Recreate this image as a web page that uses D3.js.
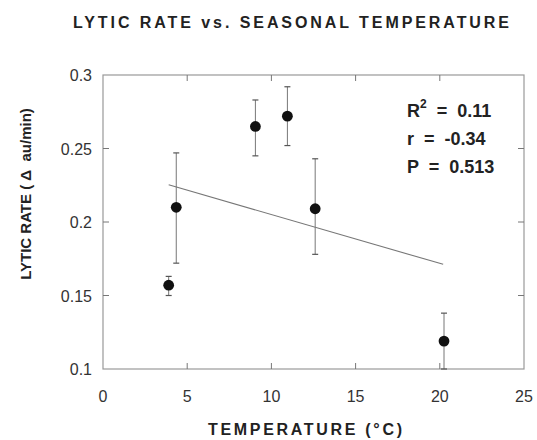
<!DOCTYPE html>
<html>
<head>
<meta charset="utf-8">
<script src="https://cdn.jsdelivr.net/npm/d3@7"></script>
<style>
  html, body { margin: 0; padding: 0; background: #fff; }
  svg { display: block; }
  .tick-label { font-family: Arial, "Liberation Sans", sans-serif; font-size: 16px; fill: #333; }
  .bold { font-family: Arial, "Liberation Sans", sans-serif; font-weight: bold; fill: #222; }
</style>
</head>
<body>
<svg id="chart" width="537" height="440"></svg>
<script>
// DATA
const temps = [3.9, 4.35, 9.05, 10.95, 12.6, 20.25];
const rates = [0.157, 0.21, 0.265, 0.272, 0.209, 0.119];
const errLow = [0.15, 0.172, 0.245, 0.252, 0.178, 0.1];
const errHigh = [0.163, 0.247, 0.283, 0.292, 0.243, 0.138];
const fitX = [3.9, 20.2];
const fitY = [0.2253, 0.1712];
const xTicks = [0, 5, 10, 15, 20, 25];
const yTicks = [0.1, 0.15, 0.2, 0.25, 0.3];
const yTickLabels = ["0.1", "0.15", "0.2", "0.25", "0.3"];
const statLines = ["r  =  -0.34", "P  =  0.513"];

const margin = { top: 75, right: 13, bottom: 71, left: 103 };
const width = 537, height = 440;
const innerW = width - margin.left - margin.right;
const innerH = height - margin.top - margin.bottom;

const svg = d3.select("#chart");
const g = svg.append("g").attr("transform", `translate(${margin.left},${margin.top})`);

const x = d3.scaleLinear().domain([0, 25]).range([0, innerW]);
const y = d3.scaleLinear().domain([0.1, 0.3]).range([innerH, 0]);

// TITLE
svg.append("text")
  .attr("class", "bold")
  .attr("x", 73)
  .attr("y", 28)
  .attr("font-size", 16)
  .attr("textLength", 436)
  .attr("lengthAdjust", "spacing")
  .text("LYTIC RATE vs. SEASONAL TEMPERATURE");

// FRAME
g.append("rect")
  .attr("x", 0).attr("y", 0)
  .attr("width", innerW).attr("height", innerH)
  .attr("fill", "none")
  .attr("stroke", "#999")
  .attr("stroke-width", 1.2);

// inner ticks on all four sides
const innerX = xTicks.slice(1, -1);
const innerY = yTicks.slice(1, -1);
const tickLen = 6;
g.selectAll(".xtb").data(innerX).enter().append("line")
  .attr("x1", d => x(d)).attr("x2", d => x(d))
  .attr("y1", innerH).attr("y2", innerH - tickLen)
  .attr("stroke", "#777");
g.selectAll(".xtt").data(innerX).enter().append("line")
  .attr("x1", d => x(d)).attr("x2", d => x(d))
  .attr("y1", 0).attr("y2", tickLen)
  .attr("stroke", "#777");
g.selectAll(".ytl").data(innerY).enter().append("line")
  .attr("y1", d => y(d)).attr("y2", d => y(d))
  .attr("x1", 0).attr("x2", tickLen)
  .attr("stroke", "#777");
g.selectAll(".ytr").data(innerY).enter().append("line")
  .attr("y1", d => y(d)).attr("y2", d => y(d))
  .attr("x1", innerW).attr("x2", innerW - tickLen)
  .attr("stroke", "#777");

// TICK LABELS
g.selectAll(".xl").data(xTicks).enter().append("text")
  .attr("class", "tick-label")
  .attr("x", d => x(d))
  .attr("y", innerH + 33)
  .attr("text-anchor", "middle")
  .text(d => d);

g.selectAll(".yl").data(yTicks).enter().append("text")
  .attr("class", "tick-label")
  .attr("x", -11)
  .attr("y", d => y(d) + 6)
  .attr("text-anchor", "end")
  .text((d, i) => yTickLabels[i]);

// AXIS TITLES
svg.append("text")
  .attr("class", "bold")
  .attr("font-size", 16)
  .attr("x", 208)
  .attr("y", 435)
  .attr("textLength", 194)
  .attr("lengthAdjust", "spacing")
  .text("TEMPERATURE (°C)");

svg.append("text")
  .attr("class", "bold")
  .attr("font-size", 15)
  .attr("transform", "translate(31,194) rotate(-90)")
  .attr("text-anchor", "middle")
  .style("white-space", "pre")
  .text("LYTIC RATE ( Δ  au/min)");

// REGRESSION LINE
const line = d3.line()
  .x(d => x(d[0]))
  .y(d => y(d[1]));
g.append("path")
  .attr("d", line(fitX.map((v, i) => [v, fitY[i]])))
  .attr("fill", "none")
  .attr("stroke", "#777")
  .attr("stroke-width", 1.1);

// ERROR BARS
const pts = temps.map((t, i) => ({ t, r: rates[i], lo: errLow[i], hi: errHigh[i] }));
const eb = g.selectAll(".eb").data(pts).enter().append("g").attr("class", "eb");
eb.append("line")
  .attr("x1", d => x(d.t)).attr("x2", d => x(d.t))
  .attr("y1", d => y(d.lo)).attr("y2", d => y(d.hi))
  .attr("stroke", "#777").attr("stroke-width", 1);
eb.append("line")
  .attr("x1", d => x(d.t) - 3).attr("x2", d => x(d.t) + 3)
  .attr("y1", d => y(d.hi)).attr("y2", d => y(d.hi))
  .attr("stroke", "#555").attr("stroke-width", 1.2);
eb.append("line")
  .attr("x1", d => x(d.t) - 3).attr("x2", d => x(d.t) + 3)
  .attr("y1", d => y(d.lo)).attr("y2", d => y(d.lo))
  .attr("stroke", "#555").attr("stroke-width", 1.2);

// POINTS
g.selectAll(".pt").data(pts).enter().append("circle")
  .attr("cx", d => x(d.t))
  .attr("cy", d => y(d.r))
  .attr("r", 5.4)
  .attr("fill", "#111");

// STATS
const stats = svg.append("g").attr("class", "bold").attr("font-size", 18);
const r2 = stats.append("text").attr("x", 407).attr("y", 117).style("white-space", "pre");
r2.append("tspan").text("R");
r2.append("tspan").attr("dy", -9).attr("font-size", 12).text("2");
r2.append("tspan").attr("dy", 9).text("  =  0.11");
stats.selectAll(".st").data(statLines).enter().append("text")
  .attr("x", 407)
  .attr("y", (d, i) => 145 + i * 28)
  .style("white-space", "pre")
  .text(d => d);
</script>
</body>
</html>
